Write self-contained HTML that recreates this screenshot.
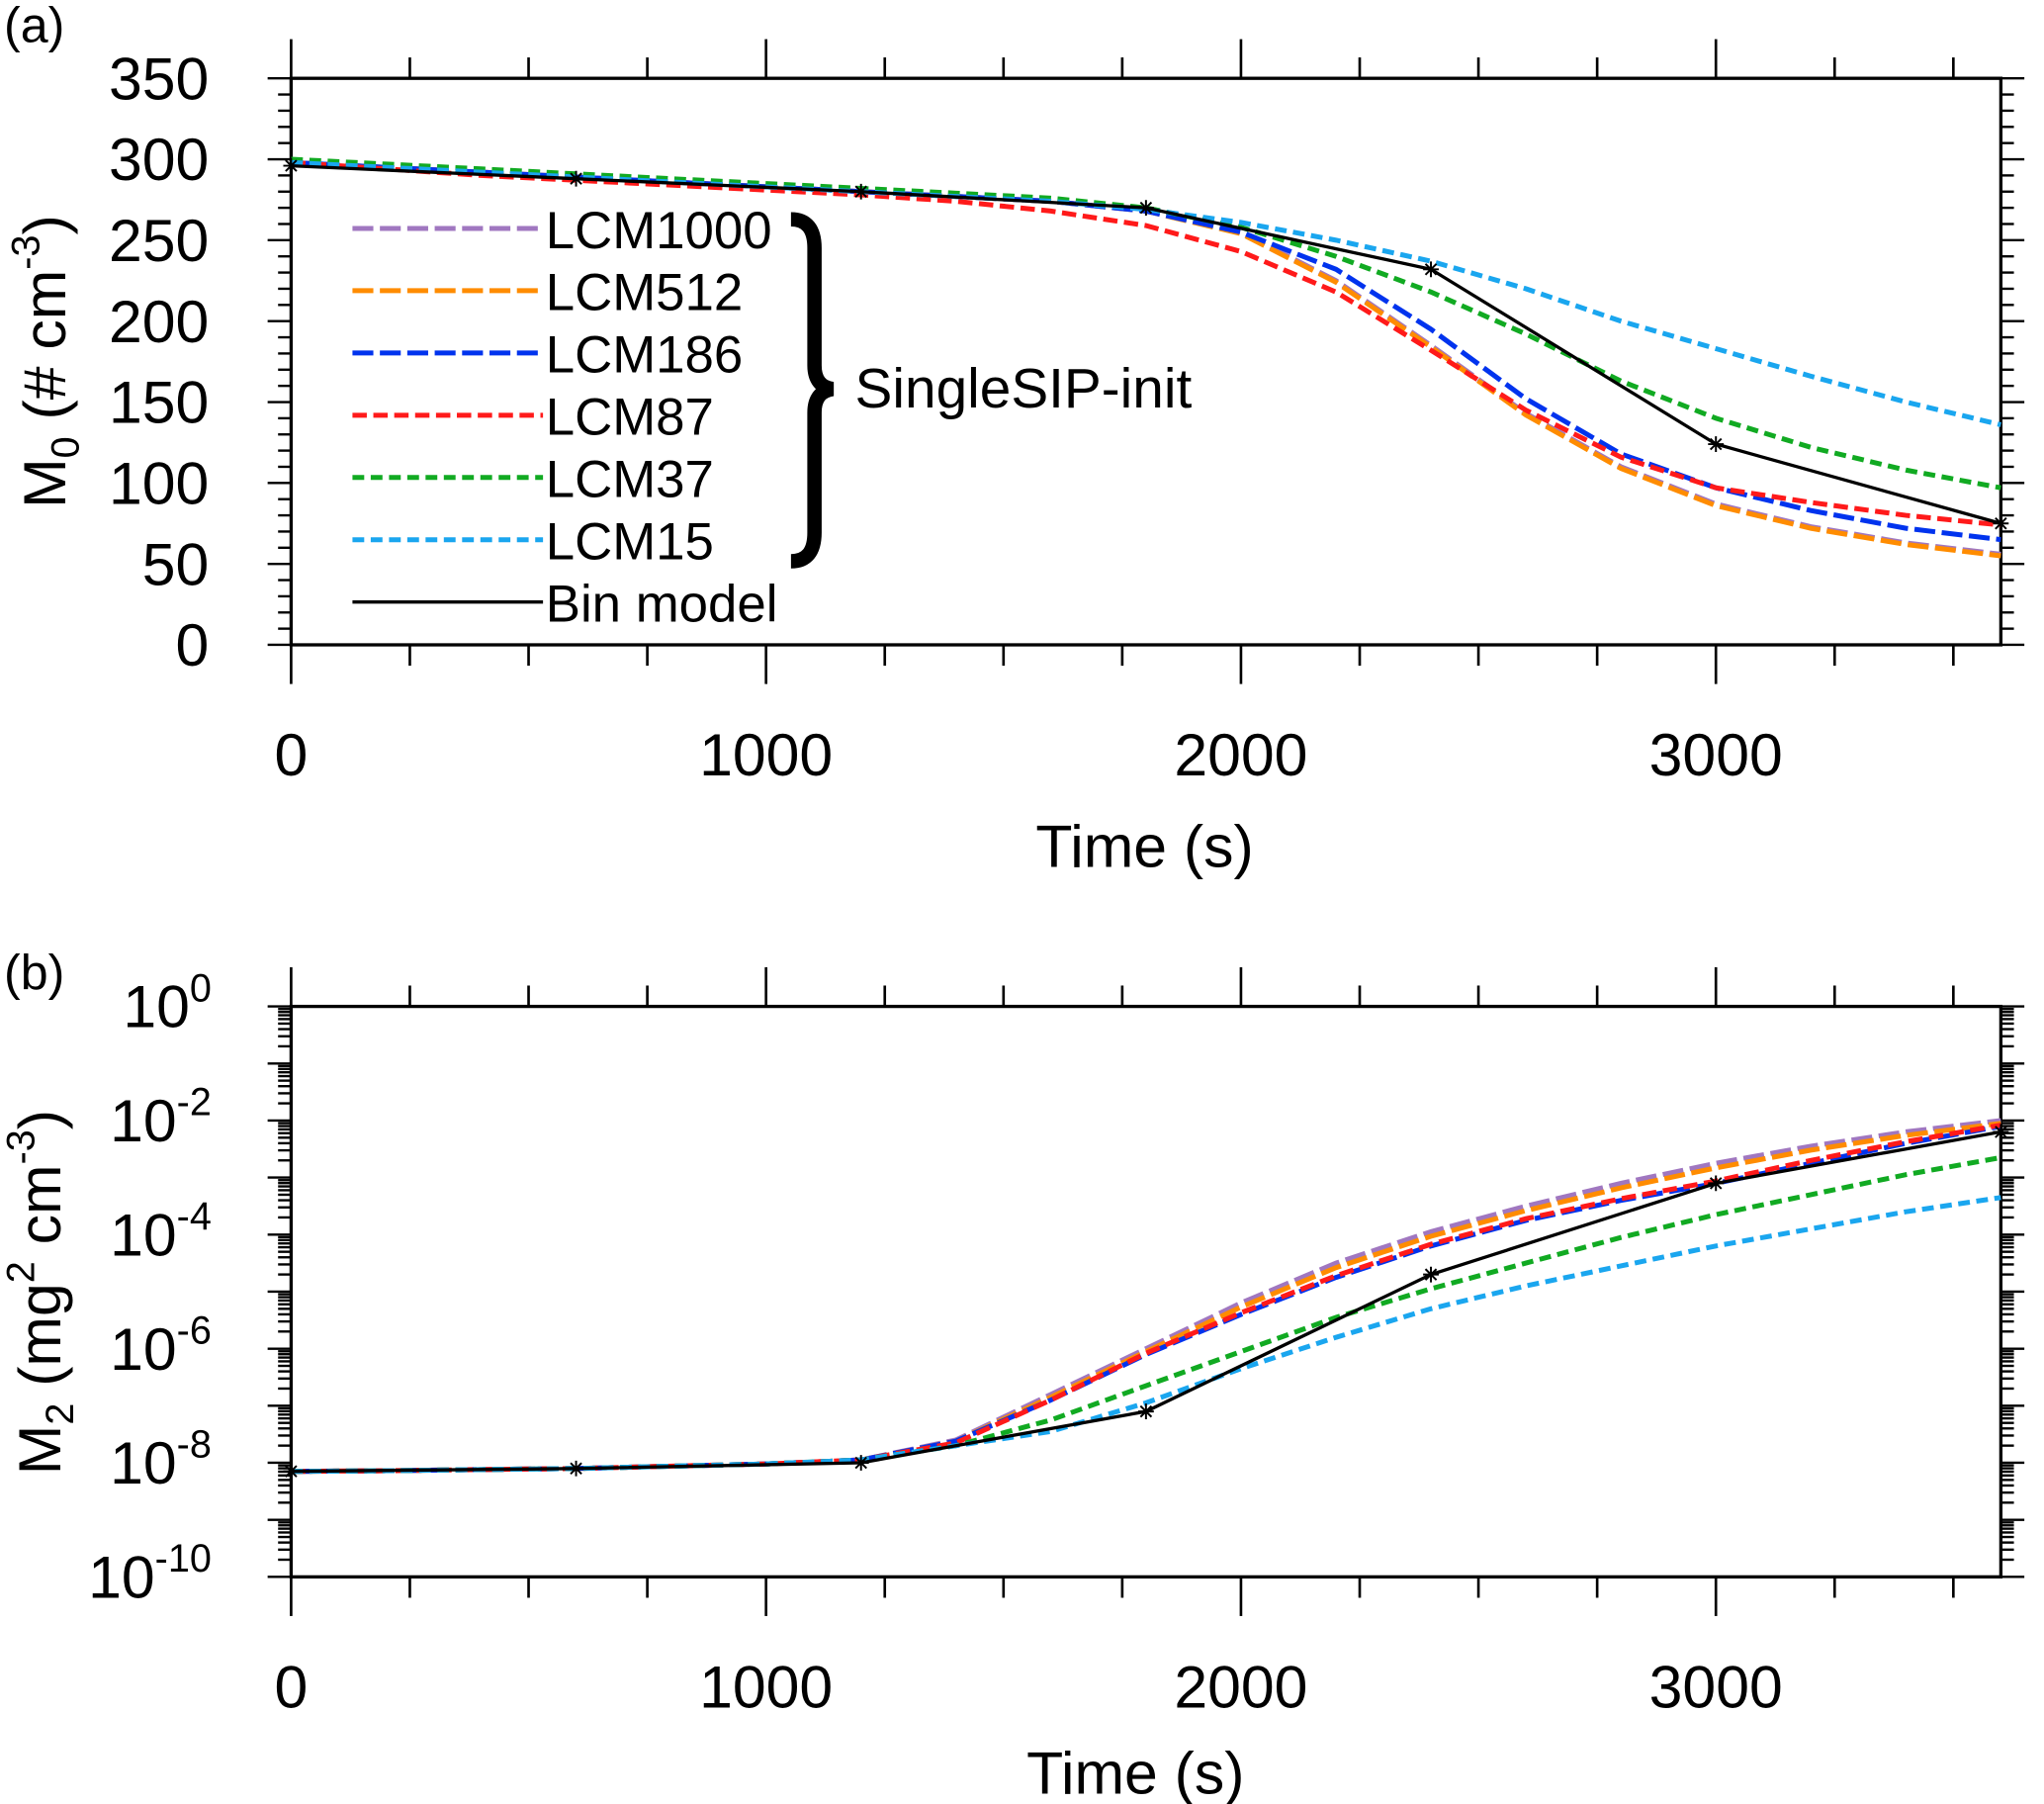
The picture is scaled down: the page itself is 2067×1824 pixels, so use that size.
<!DOCTYPE html>
<html><head><meta charset="utf-8"><style>
html,body{margin:0;padding:0;background:#fff}
svg{display:block}
text{font-family:"Liberation Sans",sans-serif;fill:#000}
</style></head><body>
<svg id="fig" xmlns="http://www.w3.org/2000/svg" width="2067" height="1824" viewBox="0 0 1566 1382">
<g id="pa"></g>
<g id="pb"></g>
</svg>
<script>
// ---- data ----
const times = [0,200,400,600,800,1000,1200,1400,1600,1800,2000,2200,2400,2600,2800,3000,3200,3400,3600];
const binTimes = [0,600,1200,1800,2400,3000,3600];
const seriesNames = ["LCM1000","LCM512","LCM186","LCM87","LCM37","LCM15"];
// Panel a: M0 (# cm^-3)
const m0_LCM1000 = [298,295,292,289,286,283,280,277,274,268,255,225,185,143,110,87,73,63,56];
const m0_LCM512  = [298,295,292,289,286,283,280,277,274,268,254,224,184,142,109,86,72,62,55];
const m0_LCM186  = [298,295,292,289,286,283,280,277,274,268,255,232,195,152,118,97,83,72,65];
const m0_LCM87   = [298,294,290,287,284,281,278,274,268,259,243,218,182,145,116,97,88,80,74];
const m0_LCM37   = [300,297,294,291,288,285,282,279,276,270,258,240,218,192,163,140,122,108,97];
const m0_LCM15   = [298,295,292,289,286,283,280,277,274,269,261,250,237,220,200,183,166,150,136];
const m0_bin     = [296,288,280,270,232,124,75];
// Panel b: log10 M2 (mg^2 cm^-3)
const m2_LCM1000 = [-8.15,-8.14,-8.12,-8.1,-8.06,-8.02,-7.95,-7.6,-6.8,-6.0,-5.2,-4.5,-3.95,-3.5,-3.1,-2.75,-2.45,-2.2,-2.0];
const m2_LCM512  = [-8.15,-8.14,-8.12,-8.1,-8.06,-8.02,-7.95,-7.62,-6.85,-6.05,-5.27,-4.58,-4.03,-3.58,-3.18,-2.83,-2.52,-2.26,-2.05];
const m2_LCM186  = [-8.15,-8.14,-8.12,-8.1,-8.06,-8.02,-7.95,-7.62,-6.9,-6.1,-5.4,-4.75,-4.2,-3.75,-3.4,-3.1,-2.75,-2.4,-2.1];
const m2_LCM87   = [-8.15,-8.14,-8.12,-8.1,-8.06,-8.02,-7.95,-7.65,-6.9,-6.08,-5.37,-4.72,-4.17,-3.72,-3.37,-3.06,-2.7,-2.37,-2.08];
const m2_LCM37   = [-8.15,-8.14,-8.12,-8.1,-8.06,-8.02,-7.95,-7.7,-7.25,-6.65,-6.05,-5.45,-4.95,-4.5,-4.05,-3.65,-3.3,-2.95,-2.65];
const m2_LCM15   = [-8.15,-8.14,-8.12,-8.1,-8.06,-8.02,-7.95,-7.7,-7.45,-6.95,-6.35,-5.8,-5.3,-4.9,-4.55,-4.2,-3.9,-3.6,-3.35];
const m2_bin     = [-8.15,-8.1,-8.0,-7.1,-4.7,-3.1,-2.2];
const xTicks = [0,1000,2000,3000];
const yTicksA = [0,50,100,150,200,250,300,350];
const yTicksB = [0,-2,-4,-6,-8,-10];

const colors = ["#a077c0","#ff8c00","#0033ee","#ff1a1a","#11aa22","#1aa6ef"];
const dashes = ["16,5","16,5","16,5","11,5","9,5","9,5"];
const NS="http://www.w3.org/2000/svg";
function mk(parent, tag, attrs){const e=document.createElementNS(NS,tag);for(const k in attrs)e.setAttribute(k,attrs[k]);parent.appendChild(e);return e;}

const L=223,R=1533;
function sx(t){return L+(t/3600)*(R-L);}

function drawPanel(g, top, bot, yMin, yMax, series, bin, yTicks, log){
  const sy=v=>bot-(v-yMin)/(yMax-yMin)*(bot-top);
  const fr=mk(g,'rect',{x:L,y:top,width:R-L,height:bot-top,fill:'none',stroke:'#000','stroke-width':2.5});
  
  
  for(let t=0;t<=3600;t+=250){
    const major=t%1000===0;
    const len=major?30:16;
    const a=mk(g,'line',{x1:sx(t),x2:sx(t),y1:top,y2:top-len,stroke:'#000','stroke-width':2});
    
    
    const b=mk(g,'line',{x1:sx(t),x2:sx(t),y1:bot,y2:bot+len,stroke:'#000','stroke-width':2});
    
    
  }
  xTicks.forEach(t=>{
    const tx=mk(g,'text',{x:sx(t),y:bot+100,'font-size':46,'text-anchor':'middle'});
    tx.textContent=t;
    
    
  });
  const ticks=[];
  if(!log){
    for(let v=yMin;v<=yMax;v+=10) ticks.push([v,v%50===0?18:10]);
  } else {
    for(let d=yMin;d<=yMax;d++){
      ticks.push([d,18]);
      if(d<yMax) for(let m=2;m<=9;m++) ticks.push([d+Math.log10(m),10]);
    }
  }
  ticks.forEach(([v,len])=>{
    const a=mk(g,'line',{x1:L,x2:L-len,y1:sy(v),y2:sy(v),stroke:'#000','stroke-width':1.8});
    
    
    const b=mk(g,'line',{x1:R,x2:R+len,y1:sy(v),y2:sy(v),stroke:'#000','stroke-width':1.8});
    
    
  });
  yTicks.forEach(v=>{
    const tx=mk(g,'text',{x:log?162:160,y:sy(v)+16,'font-size':46,'text-anchor':'end'});
    if(log){tx.innerHTML='10<tspan dy="-20" font-size="30">'+v+'</tspan>';}
    else tx.textContent=v;
    
    
  });
  series.forEach((arr,i)=>{
    const d=arr.map((v,j)=>(j?'L':'M')+sx(times[j]).toFixed(1)+','+sy(v).toFixed(1)).join(' ');
    const p=mk(g,'path',{d:d,fill:'none',stroke:colors[i],'stroke-width':3.8,'stroke-dasharray':dashes[i]});
    
    
  });
  const bd=bin.map((v,j)=>(j?'L':'M')+sx(binTimes[j]).toFixed(1)+','+sy(v).toFixed(1)).join(' ');
  const bp=mk(g,'path',{d:bd,fill:'none',stroke:'#000','stroke-width':2.5});
  
  
  bin.forEach((v,j)=>{
    const x=sx(binTimes[j]),y=sy(v),r=6;
    const m=mk(g,'path',{d:`M${x-r},${y}L${x+r},${y}M${x},${y-r}L${x},${y+r}M${x-r*0.7},${y-r*0.7}L${x+r*0.7},${y+r*0.7}M${x-r*0.7},${y+r*0.7}L${x+r*0.7},${y-r*0.7}`,stroke:'#000','stroke-width':1.5});
    
    
  });
}

const pa=document.getElementById('pa'), pb=document.getElementById('pb');
drawPanel(pa,60,494,0,350,[m0_LCM1000,m0_LCM512,m0_LCM186,m0_LCM87,m0_LCM37,m0_LCM15],m0_bin,yTicksA,false);
drawPanel(pb,771,1208,-10,0,[m2_LCM1000,m2_LCM512,m2_LCM186,m2_LCM87,m2_LCM37,m2_LCM15],m2_bin,yTicksB,true);

function txt(g,x,y,size,html,name,attrs){const t=mk(g,'text',Object.assign({x:x,y:y,'font-size':size},attrs||{}));t.innerHTML=html;return t;}
txt(pa,3,32,38,'(a)','panel-a-label');
txt(pb,3,758,38,'(b)','panel-b-label');
txt(pa,877,664,46,'Time (s)','x-axis-title-a',{'text-anchor':'middle'});
txt(pb,870,1374,46,'Time (s)','x-axis-title-b',{'text-anchor':'middle'});
txt(pa,50,277,46,'M<tspan dy="10" font-size="30">0</tspan><tspan dy="-10"> (# cm</tspan><tspan dy="-20" font-size="30">-3</tspan><tspan dy="20">)</tspan>','y-axis-title-a',{'text-anchor':'middle',transform:'rotate(-90 50 277)'});
txt(pb,46,990,46,'M<tspan dy="10" font-size="30">2</tspan><tspan dy="-10"> (mg</tspan><tspan dy="-20" font-size="30">2</tspan><tspan dy="20"> cm</tspan><tspan dy="-20" font-size="30">-3</tspan><tspan dy="20">)</tspan>','y-axis-title-b',{'text-anchor':'middle',transform:'rotate(-90 46 990)'});

const leg=mk(pa,'g',{});


const legNames=seriesNames.concat(["Bin model"]);
legNames.forEach((n,i)=>{
  const y=175+i*47.7;
  const ln=mk(leg,'line',{x1:270,x2:416,y1:y,y2:y,stroke:i<6?colors[i]:'#000','stroke-width':i<6?3.8:2.5,'stroke-dasharray':i<6?dashes[i]:'none'});
  
  
  const t=mk(leg,'text',{x:418,y:y+15,'font-size':40});
  t.textContent=n;
  
  
});
const br=mk(pa,'path',{d:'M606,168 Q624,168 624,190 L624,280 Q624,296 638,298 Q624,300 624,316 L624,408 Q624,430 606,430',fill:'none',stroke:'#000','stroke-width':11});


txt(pa,655,312,43,'SingleSIP-init','brace-label');
</script>
</body></html>
